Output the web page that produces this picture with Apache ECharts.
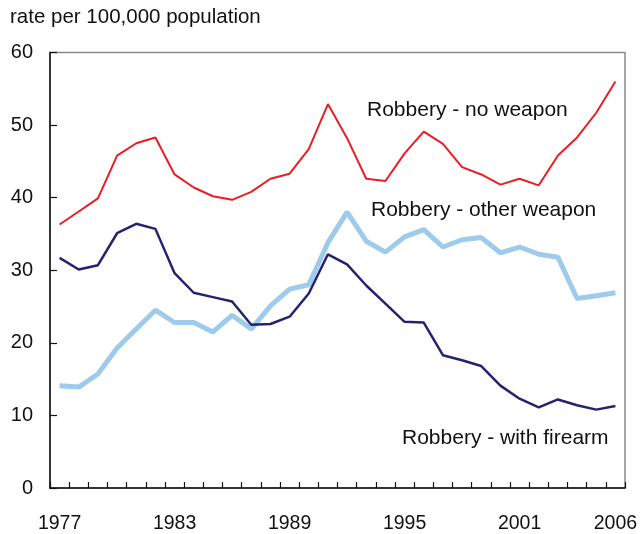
<!DOCTYPE html>
<html><head><meta charset="utf-8">
<script src="https://cdn.jsdelivr.net/npm/echarts@6/dist/echarts.min.js"></script>
<style>html,body{margin:0;padding:0;background:#fff}#c{width:641px;height:534px}</style>
</head><body><div id="c"></div>
<script>
const years = [];
for (let y = 1977; y <= 2006; y++) years.push(String(y));
const shownYears = ['1977','1983','1989','1995','2001','2006'];
const yTicks = [0,10,20,30,40,50,60];
const noWeapon = [36.3,38.1,39.9,45.8,47.5,48.3,43.2,41.4,40.2,39.7,40.8,42.6,43.3,46.7,52.9,48.2,42.6,42.3,46.1,49.1,47.4,44.2,43.2,41.8,42.6,41.7,45.8,48.3,51.7,56.0];
const otherWeapon = [14.1,13.9,15.7,19.3,21.9,24.5,22.8,22.8,21.5,23.8,21.9,25.1,27.4,28.0,33.8,38.0,34.0,32.5,34.6,35.6,33.2,34.2,34.5,32.4,33.2,32.2,31.8,26.1,26.5,26.9];
const firearm = [31.7,30.1,30.7,35.1,36.4,35.7,29.6,26.9,26.3,25.7,22.5,22.6,23.6,26.8,32.2,30.8,27.9,25.4,22.9,22.8,18.3,17.6,16.8,14.1,12.3,11.1,12.2,11.4,10.8,11.3];
const seriesNames = ['Robbery - no weapon','Robbery - other weapon','Robbery - with firearm'];
const yTitle = 'rate per 100,000 population';

const font = 'Liberation Sans, Arial, Helvetica, sans-serif';
const chart = echarts.init(document.getElementById('c'), null, {renderer:'canvas'});
chart.setOption({
  animation:false,
  textStyle:{fontFamily:font},
  grid:{left:50,right:16,top:52.5,bottom:45,show:true,borderColor:'#8a8a8a',borderWidth:1.5,containLabel:false},
  title:{text:yTitle,left:5,top:2,textStyle:{fontFamily:font,fontSize:20.5,fontWeight:'normal',color:'#111'}},
  xAxis:{type:'category',data:years,boundaryGap:true,
    axisLine:{lineStyle:{color:'#111',width:1.5}},
    axisTick:{show:true,inside:true,length:6,interval:0,alignWithLabel:false,lineStyle:{color:'#111',width:1.2}},
    axisLabel:{interval:(i,v)=>shownYears.includes(v),margin:26,fontSize:19.5,color:'#111',fontFamily:font,showMaxLabel:true},
    splitLine:{show:false}},
  yAxis:{type:'value',min:yTicks[0],max:yTicks[yTicks.length-1],interval:10,
    axisLine:{show:true,lineStyle:{color:'#111',width:1.5}},
    axisTick:{show:true,inside:true,length:7,lineStyle:{color:'#111',width:1.2}},
    axisLabel:{margin:17,fontSize:20,color:'#111',fontFamily:font},
    splitLine:{show:false}},
  series:[
    {name:seriesNames[1],type:'line',data:otherWeapon,symbol:'none',lineStyle:{color:'#9ecbec',width:5},z:2},
    {name:seriesNames[2],type:'line',data:firearm,symbol:'none',lineStyle:{color:'#24236e',width:2.5},z:3},
    {name:seriesNames[0],type:'line',data:noWeapon,symbol:'none',lineStyle:{color:'#ed1c24',width:2},z:4}
  ],
  graphic:[
    {type:'text',left:367,top:100,style:{text:seriesNames[0],fontSize:21,fontFamily:font,fill:'#111'}},
    {type:'text',left:371,top:200,style:{text:seriesNames[1],fontSize:21,fontFamily:font,fill:'#111'}},
    {type:'text',left:402,top:428,style:{text:seriesNames[2],fontSize:21,fontFamily:font,fill:'#111'}}
  ]
});
</script></body></html>
